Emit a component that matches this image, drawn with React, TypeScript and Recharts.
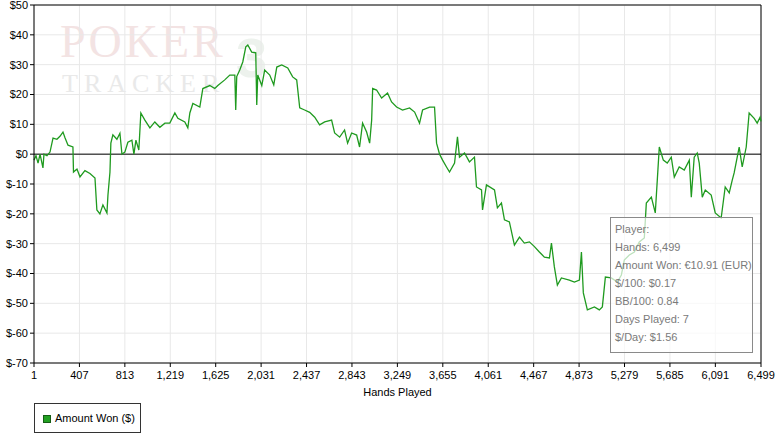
import React from 'react';
import { LineChart, Line, XAxis, YAxis, CartesianGrid, ReferenceLine } from 'recharts';

// hands played (x) and cumulative amount won in $ (y)
const hands = [
  1, 19, 37, 55, 81, 90, 117, 144, 171, 206, 233, 260, 278, 305, 349, 354, 385, 412, 456, 501,
  546, 563, 590, 617, 653, 662, 680, 688, 706, 742, 769, 787, 813, 840, 876, 894, 912, 938, 956, 992,
  1037, 1081, 1126, 1171, 1215, 1260, 1287, 1349, 1376, 1394, 1421, 1483, 1510, 1572, 1617, 1644, 1706, 1751, 1796, 1804,
  1813, 1840, 1867, 1894, 1912, 1947, 1983, 1992, 2001, 2037, 2063, 2108, 2144, 2171, 2215, 2269, 2313, 2349, 2376, 2420,
  2465, 2510, 2554, 2599, 2661, 2688, 2733, 2777, 2804, 2840, 2885, 2911, 2938, 2974, 3001, 3019, 3028, 3063, 3108, 3161,
  3197, 3242, 3295, 3358, 3403, 3447, 3474, 3537, 3581, 3599, 3626, 3653, 3688, 3715, 3760, 3786, 3804, 3849, 3893, 3938,
  3956, 4001, 4010, 4045, 4117, 4143, 4179, 4206, 4250, 4295, 4340, 4384, 4429, 4474, 4518, 4563, 4608, 4626, 4652, 4679,
  4715, 4786, 4831, 4876, 4894, 4911, 4947, 5010, 5054, 5081, 5108, 5161, 5215, 5251, 5277, 5322, 5367, 5411, 5456, 5474,
  5519, 5554, 5572, 5590, 5626, 5661, 5697, 5724, 5768, 5813, 5858, 5876, 5902, 5929, 5947, 5974, 6001, 6054, 6090, 6143,
  6179, 6215, 6242, 6259, 6304, 6331, 6367, 6393, 6438, 6465, 6491, 6499,
];

const amountWon = [
  -2, -0.5, -3, 0, -4.6, 0, -0.5, 0.7, 5.4, 5, 6, 7.4, 5.5, 3, 2.4, -6, -5, -7.6, -5.5, -6.5,
  -8, -18.7, -20, -17, -19.7, -13.7, -6, 3.7, 6.5, 5, 7, 0, 0.7, 4, 4.7, 0, 4.7, 1.4, 13.8, 11.4,
  8.8, 10.8, 9, 10.4, 10.4, 13.8, 12, 10.8, 8.8, 13.8, 17, 15.8, 22, 23, 22, 23, 24.9, 26.5, 26.5, 14.8,
  26, 28.2, 30.9, 36, 36.6, 34.2, 34, 16.5, 26.5, 23, 28.2, 26.5, 23.2, 29.2, 29.9, 28.9, 25.9, 24.9, 15.5, 14.8,
  14, 12.4, 9.8, 10.8, 11.4, 7.1, 5.7, 8.1, 3.7, 7.1, 6.4, 2.4, 10.4, 7.4, 3.7, 11.4, 22, 21.5, 18.8, 20.5,
  17.5, 15.8, 14.8, 15.5, 14.1, 10.4, 14.8, 15.8, 15.8, 3.7, 0, -2, -4.3, -6, -3, 5.8, -1, 0.4, -2.6, -1,
  -11, -12, -18.7, -10.3, -12, -18, -16.4, -22, -22.7, -30.5, -27.8, -29.8, -29.4, -31, -32.8, -34.5, -34.8, -29.8, -37.8, -43.9,
  -41.5, -42.2, -42.9, -42.2, -32.8, -46.5, -52.2, -51.2, -52.2, -51.2, -41.2, -41.5, -42.9, -40.5, -35.5, -33.8, -32.8, -29.4, -28.1, -16.4,
  -14.4, -19.7, -8.7, 2.4, -2, -3, -1, -7.7, -4.3, -5.3, -2, -14.4, -1, 0.4, -3, -14.4, -12, -13.7, -19.7, -21.4,
  -11, -13, -8.7, -6.3, 2.4, -4.3, 2.4, 13.8, 12, 10.4, 12.4, 11,
];

const xTicks = [1, 407, 813, 1219, 1625, 2031, 2437, 2843, 3249, 3655, 4061, 4467, 4873, 5279, 5685, 6091, 6499];
const yTicks = [-70, -60, -50, -40, -30, -20, -10, 0, 10, 20, 30, 40, 50];

const summaryLines = [
  'Player:',
  'Hands: 6,499',
  'Amount Won: €10.91 (EUR)',
  '$/100: $0.17',
  'BB/100: 0.84',
  'Days Played: 7',
  '$/Day: $1.56',
];

const data = hands.map((h, i) => ({ hand: h, won: amountWon[i] }));

const font = '"Liberation Sans", Arial, sans-serif';
const tickStyle = { fill: '#000', fontSize: 11, fontFamily: font };

export default function App() {
  return (
    <div style={{ position: 'absolute', left: 0, top: 0, width: 778, height: 443, background: '#fff', overflow: 'hidden' }}>
      {/* watermark */}
      <div style={{ position: 'absolute', left: 60, top: 16, fontFamily: '"Liberation Serif", serif', fontSize: 46, letterSpacing: 3, color: '#f3e3e3', lineHeight: '52px' }}>
        POKER
      </div>
      <div style={{ position: 'absolute', left: 62, top: 70, fontFamily: '"Liberation Serif", serif', fontSize: 26, letterSpacing: 6, color: '#e9e9e9', lineHeight: '28px' }}>
        TRACKER
      </div>
      <div style={{ position: 'absolute', left: 236, top: 28, fontFamily: '"Liberation Sans", sans-serif', fontWeight: 'bold', fontSize: 56, color: '#edf2ed', lineHeight: '60px' }}>
        3
      </div>

      <div style={{ position: 'absolute', left: 0, top: 0 }}>
        <LineChart width={778} height={443} data={data} margin={{ top: 5, right: 17, left: 0, bottom: 47 }}>
          <CartesianGrid stroke="#e8e8e8" />
          <XAxis
            dataKey="hand"
            type="number"
            domain={[1, 6499]}
            ticks={xTicks}
            tickFormatter={(v: number) => v.toLocaleString('en-US')}
            tick={tickStyle}
            tickSize={4}
            tickMargin={4}
            stroke="#000"
            height={33}
            interval={0}
            label={{ value: 'Hands Played', position: 'insideBottom', offset: 0, fill: '#000', fontSize: 11, fontFamily: font }}
          />
          <YAxis
            type="number"
            domain={[-70, 50]}
            ticks={yTicks}
            tickFormatter={(v: number) => `$${v}`}
            tick={tickStyle}
            tickSize={4}
            tickMargin={2}
            stroke="#000"
            width={34}
            interval={0}
          />
          <ReferenceLine y={50} stroke="#000" />
          <ReferenceLine x={6499} stroke="#000" />
          <ReferenceLine y={0} stroke="#000" />
          <Line
            type="linear"
            dataKey="won"
            stroke="#1f9a1f"
            strokeWidth={1.3}
            dot={false}
            isAnimationActive={false}
          />
        </LineChart>
      </div>

      {/* summary box */}
      <div
        style={{
          position: 'absolute',
          left: 610,
          top: 217,
          width: 137,
          height: 129,
          border: '1px solid #8a8a8a',
          background: 'rgba(255,255,255,0.7)',
          fontFamily: font,
          fontSize: 11,
          color: '#7a7a7a',
          paddingTop: 5,
          paddingLeft: 4,
          boxSizing: 'content-box',
        }}
      >
        {summaryLines.map((t) => (
          <div key={t} style={{ height: 18, lineHeight: '13px' }}>{t}</div>
        ))}
      </div>

      {/* legend */}
      <div
        style={{
          position: 'absolute',
          left: 34,
          top: 403,
          width: 105,
          height: 28,
          border: '1px solid #333',
          fontFamily: font,
          fontSize: 11,
          color: '#000',
        }}
      >
        <div style={{ position: 'absolute', left: 8, top: 11, width: 6, height: 6, background: '#22a022', border: '1px solid #155d15' }} />
        <div style={{ position: 'absolute', left: 20, top: 8, lineHeight: '13px', whiteSpace: 'nowrap' }}>Amount Won ($)</div>
      </div>
    </div>
  );
}
